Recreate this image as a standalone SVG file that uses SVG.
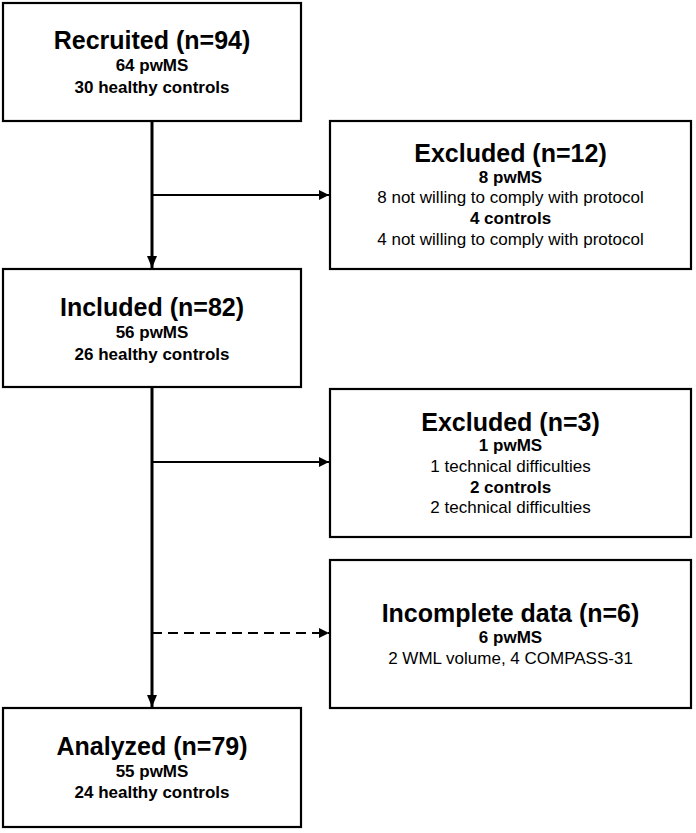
<svg xmlns="http://www.w3.org/2000/svg" width="696" height="833" viewBox="0 0 696 833">
<defs>
<style>
.box{fill:#fff;stroke:#000;stroke-width:2.2}
.t{font-family:"Liberation Sans",Arial,Helvetica,sans-serif;text-anchor:middle;fill:#000}
.h{font-size:25px;font-weight:bold}
.b{font-size:17px;font-weight:bold}
.r{font-size:17px}
.ln{stroke:#000;fill:none}
.v{stroke-width:3}
.hz{stroke-width:2.2}
.dash{stroke-dasharray:10,6}
</style>
<marker id="ah" viewBox="0 0 10 10" refX="10" refY="5" markerWidth="10" markerHeight="10" markerUnits="userSpaceOnUse" orient="auto">
<path d="M0,0 L10,5 L0,10 Z" fill="#000"/>
</marker>
<marker id="av" viewBox="0 0 12 10" refX="12" refY="5" markerWidth="12" markerHeight="10" markerUnits="userSpaceOnUse" orient="auto">
<path d="M0,0 L12,5 L0,10 Z" fill="#000"/>
</marker>
</defs>
<rect width="696" height="833" fill="#fff"/>
<g id="connectors">
<line class="ln v" x1="152" y1="121" x2="152" y2="268" marker-end="url(#av)"/>
<line class="ln hz" x1="152" y1="195" x2="329" y2="195" marker-end="url(#ah)"/>
<line class="ln v" x1="152" y1="387" x2="152" y2="707" marker-end="url(#av)"/>
<line class="ln hz" x1="152" y1="462" x2="329" y2="462" marker-end="url(#ah)"/>
<line class="ln hz dash" x1="152" y1="633" x2="329" y2="633" marker-end="url(#ah)"/>
</g>
<g id="recruited">
<rect class="box" x="3" y="3" width="298" height="118"/>
<text class="t h" x="152" y="49">Recruited (n=94)</text>
<text class="t b" x="152" y="71">64 pwMS</text>
<text class="t b" x="152" y="93">30 healthy controls</text>
</g>
<g id="excluded1">
<rect class="box" x="330" y="121" width="361" height="148"/>
<text class="t h" x="510.5" y="162">Excluded (n=12)</text>
<text class="t b" x="510.5" y="183">8 pwMS</text>
<text class="t r" x="510.5" y="203">8 not willing to comply with protocol</text>
<text class="t b" x="510.5" y="224">4 controls</text>
<text class="t r" x="510.5" y="245">4 not willing to comply with protocol</text>
</g>
<g id="included">
<rect class="box" x="3" y="269" width="298" height="118"/>
<text class="t h" x="152" y="316">Included (n=82)</text>
<text class="t b" x="152" y="338">56 pwMS</text>
<text class="t b" x="152" y="360">26 healthy controls</text>
</g>
<g id="excluded2">
<rect class="box" x="330" y="389" width="361" height="148"/>
<text class="t h" x="510.5" y="431">Excluded (n=3)</text>
<text class="t b" x="510.5" y="451">1 pwMS</text>
<text class="t r" x="510.5" y="472">1 technical difficulties</text>
<text class="t b" x="510.5" y="493">2 controls</text>
<text class="t r" x="510.5" y="513">2 technical difficulties</text>
</g>
<g id="incomplete">
<rect class="box" x="330" y="560" width="361" height="148"/>
<text class="t h" x="510.5" y="622">Incomplete data (n=6)</text>
<text class="t b" x="510.5" y="643">6 pwMS</text>
<text class="t r" x="510.5" y="664">2 WML volume, 4 COMPASS-31</text>
</g>
<g id="analyzed">
<rect class="box" x="3" y="708" width="298" height="119"/>
<text class="t h" x="152" y="755">Analyzed (n=79)</text>
<text class="t b" x="152" y="777">55 pwMS</text>
<text class="t b" x="152" y="798">24 healthy controls</text>
</g>
</svg>
